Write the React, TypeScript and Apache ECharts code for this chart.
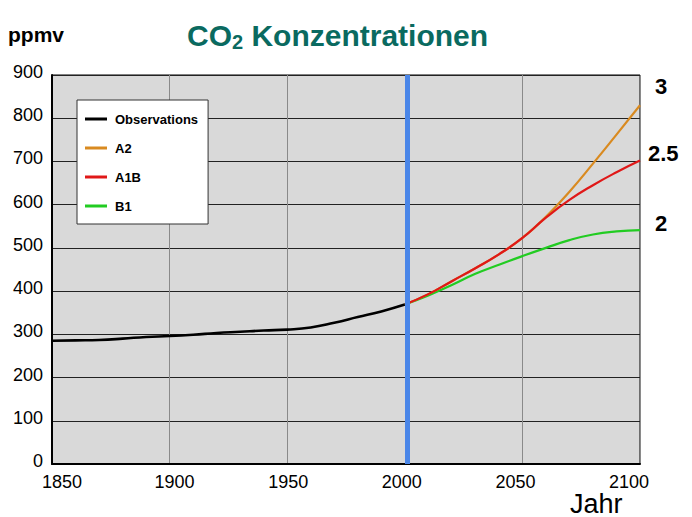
import React, { useEffect, useRef } from "react";
import * as echarts from "echarts";

const obsYears = [1850, 1860, 1870, 1880, 1890, 1900, 1910, 1920, 1930, 1940, 1950, 1960, 1970, 1980, 1990, 2000];
const obsValues = [285, 286, 287, 290, 294, 296, 299, 303, 306, 309, 311, 316, 327, 340, 353, 369];

const scenYears = [2000, 2010, 2020, 2030, 2040, 2050, 2060, 2070, 2080, 2090, 2100];
const a2Values = [369, 393, 423, 453, 485, 523, 572, 630, 695, 762, 830];
const a1bValues = [369, 393, 423, 453, 485, 523, 570, 611, 645, 675, 702];
const b1Values = [369, 390, 414, 440, 461, 481, 500, 518, 531, 538, 541];

const xTicks = { min: 1850, max: 2100, interval: 50 };
const yTicks = { min: 0, max: 900, interval: 100 };
const xTickLabels = ["1850", "1900", "1950", "2000", "2050", "2100"];
const markerYear = 2001;

const rightLabels = [
  { text: "3", x: 655, y: 88 },
  { text: "2.5", x: 648, y: 155 },
  { text: "2", x: 655, y: 225 },
];

// horizontal shift of each x tick label relative to its tick (px)
const xLabelShift = [10, 5, 1, -3, -7, -11];

const pairs = (xs: number[], ys: number[]) => xs.map((x, i) => [x, ys[i]]);

export default function App() {
  const ref = useRef<HTMLDivElement>(null);
  useEffect(() => {
    if (!ref.current) return;
    const chart = echarts.init(ref.current, null, { renderer: "svg" });
    const sans = "'Liberation Sans', Arial, sans-serif";
    const rich: Record<string, any> = {};
    xLabelShift.forEach((d, i) => {
      rich["l" + i] = {
        fontSize: 18,
        lineHeight: 18,
        color: "#000",
        fontFamily: sans,
        padding: d >= 0 ? [0, 0, 0, 2 * d] : [0, -2 * d, 0, 0],
      };
    });
    chart.setOption({
      animation: false,
      backgroundColor: "#fff",
      grid: {
        left: 52,
        right: 52,
        top: 75,
        bottom: 53,
        show: true,
        backgroundColor: "#d9d9d9",
        borderColor: "#000",
        borderWidth: 1,
      },
      xAxis: {
        type: "value",
        min: xTicks.min,
        max: xTicks.max,
        interval: xTicks.interval,
        axisLine: { show: true, lineStyle: { color: "#000", width: 2 } },
        axisTick: { show: false },
        axisLabel: {
          color: "#000",
          fontSize: 18,
          lineHeight: 18,
          fontFamily: sans,
          margin: 9,
          formatter: (v: number) => {
            const i = Math.round((v - xTicks.min) / xTicks.interval);
            return "{l" + i + "|" + (xTickLabels[i] ?? String(v)) + "}";
          },
          rich,
        },
        splitLine: { show: true, lineStyle: { color: "#8a8a8a", width: 1 } },
      },
      yAxis: {
        type: "value",
        min: yTicks.min,
        max: yTicks.max,
        interval: yTicks.interval,
        axisLine: { show: true, lineStyle: { color: "#000", width: 2 } },
        axisTick: { show: false },
        axisLabel: { color: "#000", fontSize: 18, fontFamily: sans, margin: 9, verticalAlign: "bottom", lineHeight: 22, padding: [0, 0, -8, 0] },
        splitLine: { show: true, lineStyle: { color: "#222", width: 1 } },
      },
      legend: {
        orient: "vertical",
        left: 77,
        top: 100,
        backgroundColor: "#fff",
        borderColor: "#333",
        borderWidth: 1,
        padding: [11, 10, 10, 8],
        itemGap: 13,
        itemWidth: 22,
        itemHeight: 3,
        icon: "rect",
        data: ["Observations", "A2", "A1B", "B1"],
        textStyle: { color: "#000", fontSize: 13, fontWeight: "bold", fontFamily: sans, lineHeight: 16, padding: [0, 0, 0, 3] },
      },
      series: [
        {
          name: "B1",
          type: "line",
          data: pairs(scenYears, b1Values),
          smooth: true,
          showSymbol: false,
          symbol: "none",
          lineStyle: { color: "#22cc22", width: 2.2 },
          itemStyle: { color: "#22cc22" },
          z: 3,
        },
        {
          name: "A2",
          type: "line",
          data: pairs(scenYears, a2Values),
          smooth: true,
          showSymbol: false,
          symbol: "none",
          lineStyle: { color: "#d98a20", width: 2.2 },
          itemStyle: { color: "#d98a20" },
          z: 4,
        },
        {
          name: "A1B",
          type: "line",
          data: pairs(scenYears, a1bValues),
          smooth: true,
          showSymbol: false,
          symbol: "none",
          lineStyle: { color: "#e01818", width: 2.2 },
          itemStyle: { color: "#e01818" },
          z: 5,
        },
        {
          name: "Observations",
          type: "line",
          data: pairs(obsYears, obsValues),
          smooth: true,
          showSymbol: false,
          symbol: "none",
          lineStyle: { color: "#000", width: 2.6 },
          itemStyle: { color: "#000" },
          z: 6,
          markLine: {
            silent: true,
            symbol: "none",
            label: { show: false },
            lineStyle: { color: "#4a86e8", width: 5, type: "solid" },
            data: [{ xAxis: markerYear }],
            z: 7,
          },
        },
      ],
      graphic: [
        {
          type: "text",
          left: 8,
          top: 24,
          style: { text: "ppmv", fontSize: 21, fontWeight: "bold", fill: "#000", fontFamily: sans },
        },
        {
          type: "text",
          left: 187,
          top: 18,
          style: {
            text: "{c|CO}{s|2}{c| Konzentrationen}",
            rich: {
              c: { fontSize: 30, fontWeight: "bold", fill: "#0a6a60", fontFamily: sans, lineHeight: 36 },
              s: { fontSize: 20, fontWeight: "bold", fill: "#0a6a60", fontFamily: sans, lineHeight: 36, padding: [14, 0, 0, 0] },
            },
          },
        },
        {
          type: "text",
          left: 570,
          top: 490,
          style: { text: "Jahr", fontSize: 27, lineHeight: 26, fill: "#000", fontFamily: sans },
        },
        ...rightLabels.map((l) => ({
          type: "text",
          left: l.x,
          top: l.y - 13,
          style: { text: l.text, fontSize: 22, fontWeight: "bold", fill: "#000", fontFamily: sans },
        })),
      ],
    });
    return () => chart.dispose();
  }, []);
  return <div ref={ref} style={{ width: 692, height: 517, position: "absolute", left: 0, top: 0 }} />;
}
